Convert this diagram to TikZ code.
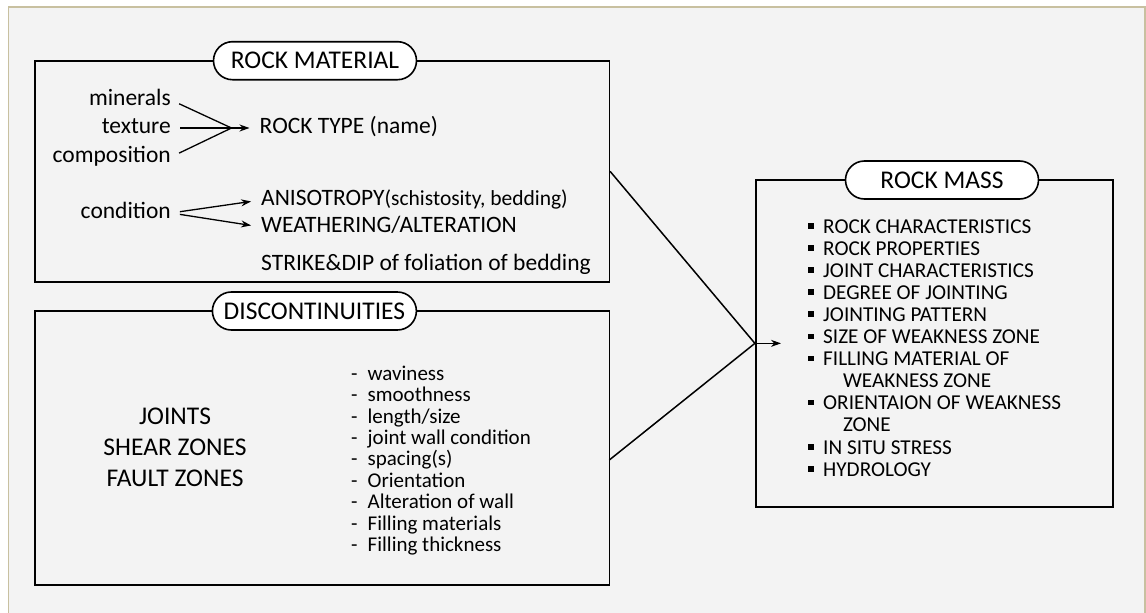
\documentclass[tikz,border=0pt]{standalone}
\usepackage{fontspec}
\setmainfont{Carlito}
\usetikzlibrary{shapes.misc,arrows.meta}

\definecolor{panelbg}{HTML}{F3F3F3}
\definecolor{panelframe}{HTML}{C8C0A0}
\newcommand{\massbullet}{\makebox[15pt][l]{\rule[4.5pt]{5.5pt}{5.5pt}}}

\begin{document}
\begin{tikzpicture}[x=1pt,y=-1pt,
    box/.style={draw, line width=1.6pt, inner sep=0pt},
    heading/.style={rounded rectangle, draw, fill=white, line width=1.6pt,
        minimum height=38pt, inner sep=0pt, font=\fontsize{25.5}{30}\selectfont},
    word/.style={inner sep=0pt, text height=16pt, text depth=5pt,
        font=\fontsize{23.5}{28}\selectfont},
    link/.style={line width=1.3pt, shorten <=9pt, shorten >=10pt},
    flow/.style={-{Stealth[length=10pt,width=7pt]}}]
    \useasboundingbox (0,0) rectangle (1146,613);

    % Panel
    \fill[panelbg] (8.5,7) rectangle (1145,640);
    \draw[panelframe, line width=1.5pt] (8.5,640) -- (8.5,7) -- (1145,7) -- (1145,640);

    % Boxes
    \node[box, minimum width=574.3pt, minimum height=221.3pt] (material) at (322.15,171.35) {};
    \node[box, minimum width=574.3pt, minimum height=274pt] (discont) at (322.15,448) {};
    \node[box, minimum width=357.3pt, minimum height=326.7pt] (mass) at (934.35,343.35) {};

    % Headings
    \node[heading, minimum width=203pt] (materialhead) at (315,60.7) {ROCK MATERIAL};
    \node[heading, minimum width=204pt] (disconthead) at (314.4,311) {DISCONTINUITIES};
    \node[heading, minimum width=193pt] (masshead) at (942,180) {ROCK MASS};

    % Rock material
    \node[word, anchor=east] (minerals) at (171,100) {minerals};
    \node[word, anchor=east] (texture) at (171,128) {texture};
    \node[word, anchor=east] (composition) at (171,157) {composition};
    \node[word, anchor=west] (rocktype) at (259.5,128) {ROCK TYPE (name)};
    \coordinate (typejoin) at (231.5,128);
    \draw[link, shorten >=0pt] (minerals.east) -- (typejoin);
    \draw[link, shorten >=0pt] (composition.east) -- (typejoin);
    \draw[link, flow] (texture.east) -- (rocktype.west);

    \node[word, anchor=east] (condition) at (171,213) {condition};
    \node[word, anchor=west] (anisotropy) at (261,200)
        {ANISOTROPY{\fontsize{21.5}{26}\selectfont(schistosity, bedding)}};
    \node[word, anchor=west] (weathering) at (261,227) {WEATHERING/ALTERATION};
    \draw[link, flow] (condition.east) -- (anisotropy.west);
    \draw[link, flow] (condition.east) -- (weathering.west);
    \node[word, anchor=west] (strike) at (261,265) {STRIKE\&DIP of foliation of bedding};

    % Discontinuities
    \node[inner sep=0pt, align=center, font=\fontsize{25.5}{31}\selectfont] (kinds) at (175,447.7)
        {JOINTS\\SHEAR ZONES\\FAULT ZONES};
    \node[inner sep=0pt, align=left, anchor=west, font=\fontsize{21}{21.4}\selectfont] (features) at (351,460.5)
        {\makebox[16.5pt][l]{-}waviness\\
         \makebox[16.5pt][l]{-}smoothness\\
         \makebox[16.5pt][l]{-}length/size\\
         \makebox[16.5pt][l]{-}joint wall condition\\
         \makebox[16.5pt][l]{-}spacing(s)\\
         \makebox[16.5pt][l]{-}Orientation\\
         \makebox[16.5pt][l]{-}Alteration of wall\\
         \makebox[16.5pt][l]{-}Filling materials\\
         \makebox[16.5pt][l]{-}Filling thickness};

    % Rock mass
    \node[inner sep=0pt, align=left, anchor=west, font=\fontsize{21.2}{22.1}\selectfont] (factors) at (808,347.8)
        {\massbullet ROCK CHARACTERISTICS\\
         \massbullet ROCK PROPERTIES\\
         \massbullet JOINT CHARACTERISTICS\\
         \massbullet DEGREE OF JOINTING\\
         \massbullet JOINTING PATTERN\\
         \massbullet SIZE OF WEAKNESS ZONE\\
         \massbullet FILLING MATERIAL OF\\
         \hspace{34.8pt}WEAKNESS ZONE\\
         \massbullet ORIENTAION OF WEAKNESS\\
         \hspace{34.8pt}ZONE\\
         \massbullet IN SITU STRESS\\
         \massbullet HYDROLOGY};

    % Connectors
    \coordinate (discjoin) at (609.3,460);
    \coordinate (massin) at (781,343.35);
    \draw[line width=1.5pt] (material.east) -- (mass.west);
    \draw[line width=1.5pt] (discjoin) -- (mass.west);
    \draw[line width=1.5pt, flow] (mass.west) -- (massin);
\end{tikzpicture}
\end{document}
